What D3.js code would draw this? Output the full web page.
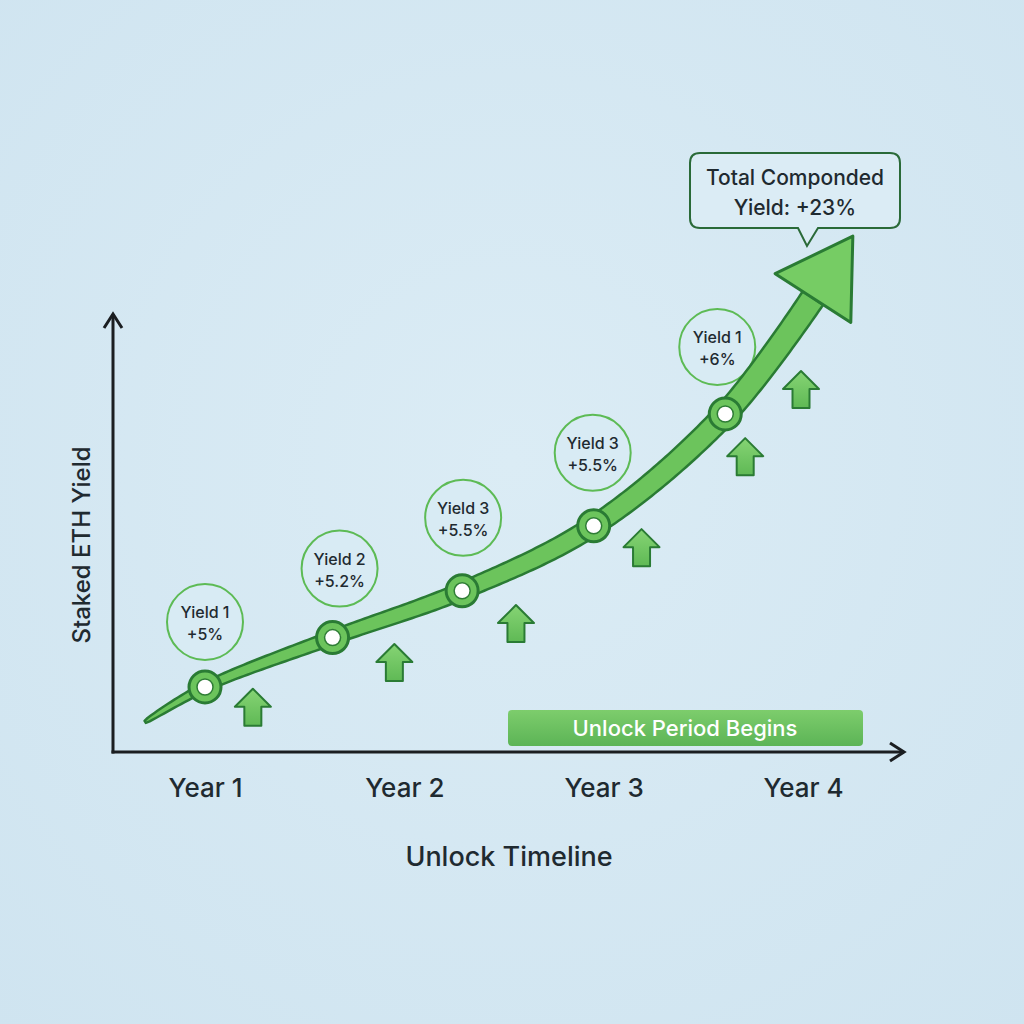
<!DOCTYPE html>
<html><head><meta charset="utf-8">
<script src="https://cdn.jsdelivr.net/npm/d3@7"></script>
<style>html,body{margin:0;padding:0;background:#d5e8f2;}svg{display:block;}</style>
</head><body>
<script>
// ---- data ----
const years = ["Year 1", "Year 2", "Year 3", "Year 4"];
const yearPos = [1, 2, 3, 4];
// curve path (timeline position, yield index) incl. tapered start and arrow base
const curveT = [0.70, 1.0, 1.64, 2.29, 2.95, 3.61, 4.05];
const curveV = [5.8, 12.5, 22, 31, 43.5, 65, 87.3];
const tipT = 4.25, tipV = 99.2;
// markers
const markerT = [1.0, 1.64, 2.29, 2.95, 3.61];
const markerV = [12.5, 22, 31, 43.5, 65];
const labelTop = ["Yield 1", "Yield 2", "Yield 3", "Yield 3", "Yield 1"];
const labelBottom = ["+5%", "+5.2%", "+5.5%", "+5.5%", "+6%"];
// small up-arrows
const arrowT = [1.24, 1.95, 2.56, 3.19, 3.71, 3.99];
const arrowV = [8.5, 17.1, 24.6, 39.2, 56.7, 69.6];
const calloutLines = ["Total Componded", "Yield: +23%"];
const bannerText = "Unlock Period Begins";
const xTitle = "Unlock Timeline";
const yTitle = "Staked ETH Yield";

const W = 1024, H = 1024;
const svg = d3.select("body").append("svg").attr("width", W).attr("height", H)
  .style("font-family", "Inter, 'Noto Sans', sans-serif");
const defs = svg.append("defs");
const bg = defs.append("radialGradient").attr("id", "bg").attr("cx", "50%").attr("cy", "45%").attr("r", "75%");
bg.append("stop").attr("offset", "0%").attr("stop-color", "#dbecf5");
bg.append("stop").attr("offset", "100%").attr("stop-color", "#cfe4f0");
svg.append("rect").attr("width", W).attr("height", H).attr("fill", "url(#bg)");

const gArrow = defs.append("linearGradient").attr("id", "ga").attr("x1", 0).attr("y1", 0).attr("x2", 0).attr("y2", 1);
gArrow.append("stop").attr("offset", "0%").attr("stop-color", "#86d474");
gArrow.append("stop").attr("offset", "100%").attr("stop-color", "#5fb955");
const gBan = defs.append("linearGradient").attr("id", "gb").attr("x1", 0).attr("y1", 0).attr("x2", 0).attr("y2", 1);
gBan.append("stop").attr("offset", "0%").attr("stop-color", "#7dcd6c");
gBan.append("stop").attr("offset", "100%").attr("stop-color", "#5cb456");

const x = d3.scaleLinear().domain([1, 4]).range([205, 803]);
const y = d3.scaleLinear().domain([0, 100]).range([752, 232]);
const axisColor = "#1b1e21";
const textColor = "#1f2a30";
const dark = "#2a7b34";

// axes
const x0 = 113, y0 = 752;
svg.append("line").attr("x1", x0).attr("y1", y0 + 1.5).attr("x2", x0).attr("y2", 314)
  .attr("stroke", axisColor).attr("stroke-width", 3);
svg.append("path").attr("d", `M${x0-9},${328} L${x0},${314} L${x0+9},${328}`)
  .attr("fill", "none").attr("stroke", axisColor).attr("stroke-width", 3).attr("stroke-linejoin", "miter");
svg.append("line").attr("x1", x0 - 1.5).attr("y1", y0).attr("x2", 904).attr("y2", y0)
  .attr("stroke", axisColor).attr("stroke-width", 3);
svg.append("path").attr("d", `M${890},${y0-9} L${904},${y0} L${890},${y0+9}`)
  .attr("fill", "none").attr("stroke", axisColor).attr("stroke-width", 3);

// x tick labels via axis
const xAxis = d3.axisBottom(x).tickValues(yearPos).tickFormat((d, i) => years[i]).tickSize(0).tickPadding(0);
const gx = svg.append("g").attr("transform", `translate(0,${y0})`).call(xAxis);
gx.select(".domain").remove();
gx.selectAll("text").attr("font-size", 26).attr("font-weight", 500).attr("fill", textColor)
  .attr("font-family", "Inter, sans-serif").attr("dy", null).attr("y", 45);

svg.append("text").attr("x", 509).attr("y", 866).attr("text-anchor", "middle")
  .attr("font-size", 27).attr("font-weight", 500).attr("fill", textColor).text(xTitle);
svg.append("text").attr("transform", "translate(90,545) rotate(-90)").attr("text-anchor", "middle")
  .attr("font-size", 24).attr("font-weight", 500).attr("fill", textColor).text(yTitle);

// banner
svg.append("rect").attr("x", 508).attr("y", 710).attr("width", 355).attr("height", 36).attr("rx", 4)
  .attr("fill", "url(#gb)");
svg.append("text").attr("x", 685).attr("y", 736).attr("text-anchor", "middle").attr("font-size", 22)
  .attr("font-weight", 500).attr("fill", "#ffffff").text(bannerText);

// label circles
const labels = svg.append("g");
const lblDX = [0, 7, 1, -1, -8], lblDY = [-65, -69, -73, -73, -67];
markerT.forEach((t, i) => {
  const cx = x(t) + lblDX[i], cy = y(markerV[i]) + lblDY[i];
  labels.append("circle").attr("cx", cx).attr("cy", cy).attr("r", 38)
    .attr("fill", "#d8ebf4").attr("stroke", "#5dbb55").attr("stroke-width", 2);
  labels.append("text").attr("x", cx).attr("y", cy - 4).attr("text-anchor", "middle").attr("font-size", 16)
    .attr("font-weight", 500).attr("fill", textColor).text(labelTop[i]);
  labels.append("text").attr("x", cx).attr("y", cy + 18).attr("text-anchor", "middle").attr("font-size", 16)
    .attr("font-weight", 500).attr("fill", textColor).text(labelBottom[i]);
});

// small up arrows
function upArrow(cx, cy) {
  const pts = [[0, -19], [18, -1], [8.5, -1], [8.5, 18], [-8.5, 18], [-8.5, -1], [-18, -1]];
  return "M" + pts.map(p => [cx + p[0], cy + p[1]].join(",")).join("L") + "Z";
}
arrowT.forEach((t, i) => {
  svg.append("path").attr("d", upArrow(x(t), y(arrowV[i])))
    .attr("fill", "url(#ga)").attr("stroke", dark).attr("stroke-width", 2).attr("stroke-linejoin", "round");
});

// tapered curve ribbon
const pts = curveT.map((t, i) => [x(t), y(curveV[i])]);
const line = d3.line().curve(d3.curveCatmullRom.alpha(0.5));
const tmp = svg.append("path").attr("d", line(pts)).attr("fill", "none").attr("stroke", "none");
const node = tmp.node();
const L = node.getTotalLength();
const N = 200;
const left = [], right = [];
for (let k = 0; k <= N; k++) {
  const s = k / N * L;
  const p = node.getPointAtLength(s);
  const p2 = node.getPointAtLength(Math.min(L, s + 1));
  const p1 = node.getPointAtLength(Math.max(0, s - 1));
  let dx = p2.x - p1.x, dy = p2.y - p1.y;
  const m = Math.hypot(dx, dy) || 1; dx /= m; dy /= m;
  const f = k / N;
  const hw = (1.2 + 11 * Math.pow(f, 0.5));
  left.push([p.x - dy * hw, p.y + dx * hw]);
  right.push([p.x + dy * hw, p.y - dx * hw]);
}
tmp.remove();
const ribbon = "M" + left.map(p => p.join(",")).join("L") + "L" + right.reverse().map(p => p.join(",")).join("L") + "Z";
svg.append("path").attr("d", ribbon).attr("fill", "#6cc45c").attr("stroke", dark).attr("stroke-width", 2.5)
  .attr("stroke-linejoin", "round");

// arrow head
const B = pts[pts.length - 1], T = [x(tipT), y(tipV)];
let ddx = T[0] - B[0], ddy = T[1] - B[1];
const dl = Math.hypot(ddx, ddy); ddx /= dl; ddy /= dl;
const hwing = 45;
const head = [T, [B[0] - ddy * hwing, B[1] + ddx * hwing], [B[0] + ddy * hwing, B[1] - ddx * hwing]];
svg.append("path").attr("d", "M" + head.map(p => p.join(",")).join("L") + "Z")
  .attr("fill", "#76cc64").attr("stroke", dark).attr("stroke-width", 3).attr("stroke-linejoin", "round");

// markers
markerT.forEach((t, i) => {
  const cx = x(t), cy = y(markerV[i]);
  svg.append("circle").attr("cx", cx).attr("cy", cy).attr("r", 16).attr("fill", "#6cc45c")
    .attr("stroke", dark).attr("stroke-width", 3);
  svg.append("circle").attr("cx", cx).attr("cy", cy).attr("r", 8).attr("fill", "#ffffff")
    .attr("stroke", "#2f7d36").attr("stroke-width", 1.5);
});

// callout
const cb = svg.append("g");
cb.append("path")
  .attr("d", "M700,153 H890 Q900,153 900,163 V218 Q900,228 890,228 H818 L807,246 L798,228 H700 Q690,228 690,218 V163 Q690,153 700,153 Z")
  .attr("fill", "#dbecf5").attr("stroke", "#2a6a38").attr("stroke-width", 2);
cb.append("text").attr("x", 795).attr("y", 185).attr("text-anchor", "middle").attr("font-size", 21)
  .attr("font-weight", 500).attr("fill", textColor).text(calloutLines[0]);
cb.append("text").attr("x", 795).attr("y", 215).attr("text-anchor", "middle").attr("font-size", 21)
  .attr("font-weight", 500).attr("fill", textColor).text(calloutLines[1]);
</script>
</body></html>
